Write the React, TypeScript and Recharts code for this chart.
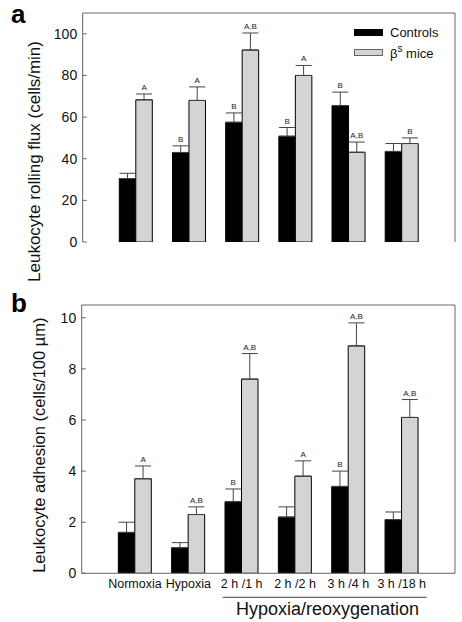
import { BarChart, Bar, XAxis, YAxis, ErrorBar, LabelList, Legend, CartesianGrid } from 'recharts';

const categories = ['Normoxia', 'Hypoxia', '2 h /1 h', '2 h /2 h', '3 h /4 h', '3 h /18 h'];

// panel a: rolling flux (cells/min)
const fluxControls = [30.5, 43, 57.5, 50.8, 65.5, 43.5];
const fluxControlsTop = [33, 46.2, 62, 55, 72, 47.3];
const fluxControlsSig = ['', 'B', 'B', 'B', 'B', ''];
const fluxMice = [68.3, 68, 92.2, 80, 43.1, 47.3];
const fluxMiceTop = [71.1, 74.5, 100.4, 84.8, 48, 50];
const fluxMiceSig = ['A', 'A', 'A,B', 'A', 'A,B', 'B'];

// panel b: adhesion (cells/100 µm)
const adhControls = [1.6, 1.0, 2.8, 2.2, 3.4, 2.1];
const adhControlsTop = [2.0, 1.2, 3.3, 2.6, 4.0, 2.4];
const adhControlsSig = ['', '', 'B', '', 'B', ''];
const adhMice = [3.7, 2.3, 7.6, 3.8, 8.9, 6.1];
const adhMiceTop = [4.2, 2.6, 8.6, 4.4, 9.8, 6.8];
const adhMiceSig = ['A', 'A,B', 'A,B', 'A', 'A,B', 'A,B'];

const fluxTicks = [0, 20, 40, 60, 80, 100];
const adhTicks = [0, 2, 4, 6, 8, 10];

const FONT = '"Liberation Sans", Arial, Helvetica, sans-serif';
const AXIS = '#666';
const GREY = '#d4d4d4';

function build(c: number[], cTop: number[], cSig: string[], m: number[], mTop: number[], mSig: string[]) {
  return categories.map((cat, i) => ({
    cat,
    controls: c[i],
    controlsErr: [0, +(cTop[i] - c[i]).toFixed(2)],
    controlsSig: cSig[i],
    mice: m[i],
    miceErr: [0, +(mTop[i] - m[i]).toFixed(2)],
    miceSig: mSig[i],
  }));
}

const fluxData = build(fluxControls, fluxControlsTop, fluxControlsSig, fluxMice, fluxMiceTop, fluxMiceSig);
const adhData = build(adhControls, adhControlsTop, adhControlsSig, adhMice, adhMiceTop, adhMiceSig);

// letter above the error bar: bar height / value gives px per unit
function sigLabel(data: any[], key: 'controls' | 'mice') {
  return (props: any) => {
    const { x, y, width, height, index } = props;
    const row = data[index];
    const txt = row[key + 'Sig'];
    if (!txt) return null;
    const ppu = height / row[key];
    const top = y - row[key + 'Err'][1] * ppu;
    return (
      <text x={x + width / 2} y={top - 4} textAnchor="middle" fontSize={8} fill="#222" fontFamily={FONT}>
        {txt}
      </text>
    );
  };
}

function yLabel(text: string, dx: number, dy: number, size: number) {
  return (props: any) => {
    const { viewBox } = props;
    const cx = viewBox.x + viewBox.width + dx;
    const cy = viewBox.y + viewBox.height / 2 + dy;
    return (
      <text
        x={cx}
        y={cy}
        transform={`rotate(-90 ${cx} ${cy})`}
        textAnchor="middle"
        dominantBaseline="central"
        fontSize={size}
        fontFamily={FONT}
        fill="#111"
      >
        {text}
      </text>
    );
  };
}

function LegendBox() {
  const row = { display: 'flex', alignItems: 'center', height: 20 } as const;
  return (
    <div style={{ fontFamily: FONT, fontSize: 13, color: '#111' }}>
      <div style={row}>
        <div style={{ width: 29, height: 7, background: '#000', marginRight: 7 }} />
        Controls
      </div>
      <div style={row}>
        <div style={{ width: 27, height: 5, background: GREY, border: '1px solid #666', marginRight: 7 }} />
        <span>
          β<sup style={{ fontSize: 10, verticalAlign: 6 }}>s</sup> mice
        </span>
      </div>
    </div>
  );
}

function Panel({ data, height, margin, ticks, domain, label, labelDx, labelDy, labelSize, showX, legend }: any) {
  return (
    <BarChart width={462} height={height} data={data} margin={margin} barGap={0} barSize={16.5}>
      {/* top and right edges of the frame */}
      <CartesianGrid
        stroke={AXIS}
        strokeWidth={1}
        horizontalCoordinatesGenerator={({ offset }: any) => [offset.top]}
        verticalCoordinatesGenerator={({ offset }: any) => [offset.left + offset.width]}
      />
      <XAxis
        dataKey="cat"
        hide={!showX}
        height={showX ? 24 : 0}
        padding={{ left: 26.6, right: 26.6 }}
        tickLine={false}
        tickSize={0}
        tickMargin={6}
        axisLine={{ stroke: AXIS }}
        tick={{ fontSize: 12.5, fill: '#111', fontFamily: FONT }}
        interval={0}
      />
      <YAxis
        domain={domain}
        ticks={ticks}
        width={60}
        tickSize={-4}
        tickMargin={9.5}
        interval={0}
        allowDataOverflow
        axisLine={{ stroke: AXIS }}
        tickLine={{ stroke: AXIS }}
        tick={{ fontSize: 14, fill: '#111', fontFamily: FONT }}
        label={{ content: yLabel(label, labelDx, labelDy, labelSize) }}
      />
      {legend && (
        <Legend
          content={() => <LegendBox />}
          wrapperStyle={{ position: 'absolute', left: 354, top: 22, width: 110 }}
        />
      )}
      <Bar dataKey="controls" fill="#000" stroke="#000" strokeWidth={1} isAnimationActive={false}>
        <ErrorBar dataKey="controlsErr" width={8} stroke="#444" strokeWidth={1} direction="y" />
        <LabelList dataKey="controls" content={sigLabel(data, 'controls')} />
      </Bar>
      <Bar dataKey="mice" fill={GREY} stroke="#000" strokeWidth={1} isAnimationActive={false}>
        <ErrorBar dataKey="miceErr" width={8} stroke="#444" strokeWidth={1} direction="y" />
        <LabelList dataKey="mice" content={sigLabel(data, 'mice')} />
      </Bar>
    </BarChart>
  );
}

export default function App() {
  return (
    <div style={{ position: 'absolute', left: 0, top: 0, width: 462, height: 622, background: '#fff', fontFamily: FONT }}>
      <div style={{ position: 'absolute', left: 0, top: 0 }}>
        <Panel
          data={fluxData}
          height={292}
          margin={{ top: 13, right: 7, bottom: 10, left: 22.7 }}
          ticks={fluxTicks}
          domain={[0, 110]}
          label="Leukocyte rolling flux (cells/min)"
          labelDx={-48.7}
          labelDy={34}
          labelSize={17}
          showX={false}
          legend
        />
      </div>
      <div style={{ position: 'absolute', left: 0, top: 295 }}>
        <Panel
          data={adhData}
          height={327}
          margin={{ top: 10, right: 7, bottom: 24.7, left: 21.7 }}
          ticks={adhTicks}
          domain={[0, 10.5]}
          label="Leukocyte adhesion (cells/100 µm)"
          labelDx={-42.7}
          labelDy={6}
          labelSize={16.5}
          showX
        />
      </div>
      <svg width={462} height={622} style={{ position: 'absolute', left: 0, top: 0, pointerEvents: 'none' }}>
        <text x={11} y={23} fontSize={26} fontWeight="bold" fontFamily={FONT} fill="#000">a</text>
        <text x={11} y={312} fontSize={26} fontWeight="bold" fontFamily={FONT} fill="#000">b</text>
        <line x1={222.7} x2={426.7} y1={597.3} y2={597.3} stroke="#444" strokeWidth={1} />
        <text x={327.5} y={614.5} textAnchor="middle" fontSize={18} fontFamily={FONT} fill="#111">
          Hypoxia/reoxygenation
        </text>
      </svg>
    </div>
  );
}
